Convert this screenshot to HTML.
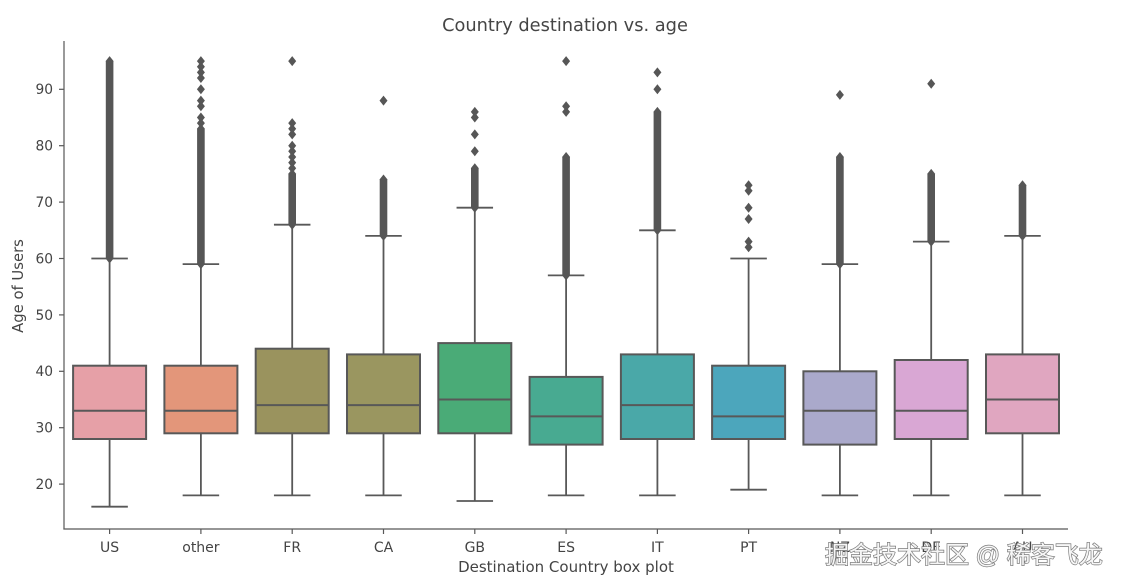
<!DOCTYPE html>
<html><head><meta charset="utf-8"><style>
html,body{margin:0;padding:0;background:#fff;}
svg{display:block;}
text{font-family:"DejaVu Sans","Liberation Sans",sans-serif;fill:#444;}
</style></head><body>
<svg width="1128" height="588" viewBox="0 0 1128 588" xmlns="http://www.w3.org/2000/svg">
<defs><path id="dm" d="M0,-5 L4,0 L0,5 L-4,0Z" fill="#565656"/></defs>
<rect width="1128" height="588" fill="#fff"/>
<text x="565" y="31" text-anchor="middle" font-size="17.8" style="fill:#454545">Country destination vs. age</text>

<g stroke="#585858" stroke-width="1.2" fill="none">
<line x1="64" y1="41" x2="64" y2="529.5"/>
<line x1="63.4" y1="529" x2="1068" y2="529"/>
<line x1="59" y1="484.1" x2="64" y2="484.1"/>
<line x1="59" y1="427.7" x2="64" y2="427.7"/>
<line x1="59" y1="371.3" x2="64" y2="371.3"/>
<line x1="59" y1="314.9" x2="64" y2="314.9"/>
<line x1="59" y1="258.5" x2="64" y2="258.5"/>
<line x1="59" y1="202.1" x2="64" y2="202.1"/>
<line x1="59" y1="145.7" x2="64" y2="145.7"/>
<line x1="59" y1="89.3" x2="64" y2="89.3"/>
<line x1="109.6" y1="529" x2="109.6" y2="534"/>
<line x1="200.9" y1="529" x2="200.9" y2="534"/>
<line x1="292.2" y1="529" x2="292.2" y2="534"/>
<line x1="383.5" y1="529" x2="383.5" y2="534"/>
<line x1="474.8" y1="529" x2="474.8" y2="534"/>
<line x1="566.1" y1="529" x2="566.1" y2="534"/>
<line x1="657.4" y1="529" x2="657.4" y2="534"/>
<line x1="748.6" y1="529" x2="748.6" y2="534"/>
<line x1="839.9" y1="529" x2="839.9" y2="534"/>
<line x1="931.2" y1="529" x2="931.2" y2="534"/>
<line x1="1022.5" y1="529" x2="1022.5" y2="534"/>
</g>

<g font-size="13.8" text-anchor="end">
<text x="53" y="489">20</text>
<text x="53" y="432.6">30</text>
<text x="53" y="376.2">40</text>
<text x="53" y="319.8">50</text>
<text x="53" y="263.4">60</text>
<text x="53" y="207">70</text>
<text x="53" y="150.6">80</text>
<text x="53" y="94.2">90</text>
</g>
<text transform="translate(23,286) rotate(-90)" text-anchor="middle" font-size="14.8">Age of Users</text>

<g font-size="14" text-anchor="middle">
<text x="109.6" y="552">US</text>
<text x="200.9" y="552">other</text>
<text x="292.2" y="552">FR</text>
<text x="383.5" y="552">CA</text>
<text x="474.8" y="552">GB</text>
<text x="566.1" y="552">ES</text>
<text x="657.4" y="552">IT</text>
<text x="748.6" y="552">PT</text>
<text x="839.9" y="552">NZ</text>
<text x="931.2" y="552">DE</text>
<text x="1022.5" y="552">AU</text>
</g>
<text x="566" y="572" text-anchor="middle" font-size="15">Destination Country box plot</text>

<!-- boxes -->
<g stroke="#585858" stroke-width="1.8">
<line x1="109.6" y1="365.7" x2="109.6" y2="258.5"/><line x1="109.6" y1="439" x2="109.6" y2="506.7"/>
<line x1="91.35" y1="258.5" x2="127.85" y2="258.5"/><line x1="91.35" y1="506.7" x2="127.85" y2="506.7"/>
<rect x="73.1" y="365.7" width="73" height="73.3" fill="#e6a0a7" stroke-width="2"/>
<line x1="73.1" y1="410.8" x2="146.1" y2="410.8" stroke-width="2"/>

<line x1="200.9" y1="365.7" x2="200.9" y2="264.1"/><line x1="200.9" y1="433.3" x2="200.9" y2="495.4"/>
<line x1="182.65" y1="264.1" x2="219.15" y2="264.1"/><line x1="182.65" y1="495.4" x2="219.15" y2="495.4"/>
<rect x="164.4" y="365.7" width="73" height="67.6" fill="#e3967a" stroke-width="2"/>
<line x1="164.4" y1="410.8" x2="237.4" y2="410.8" stroke-width="2"/>

<line x1="292.2" y1="348.7" x2="292.2" y2="224.7"/><line x1="292.2" y1="433.3" x2="292.2" y2="495.4"/>
<line x1="273.95" y1="224.7" x2="310.45" y2="224.7"/><line x1="273.95" y1="495.4" x2="310.45" y2="495.4"/>
<rect x="255.7" y="348.7" width="73" height="84.6" fill="#9a935e" stroke-width="2"/>
<line x1="255.7" y1="405.1" x2="328.7" y2="405.1" stroke-width="2"/>

<line x1="383.5" y1="354.4" x2="383.5" y2="235.9"/><line x1="383.5" y1="433.3" x2="383.5" y2="495.4"/>
<line x1="365.25" y1="235.9" x2="401.75" y2="235.9"/><line x1="365.25" y1="495.4" x2="401.75" y2="495.4"/>
<rect x="347" y="354.4" width="73" height="78.9" fill="#9a9660" stroke-width="2"/>
<line x1="347" y1="405.1" x2="420" y2="405.1" stroke-width="2"/>

<line x1="474.8" y1="343.1" x2="474.8" y2="207.7"/><line x1="474.8" y1="433.3" x2="474.8" y2="501"/>
<line x1="456.55" y1="207.7" x2="493.05" y2="207.7"/><line x1="456.55" y1="501" x2="493.05" y2="501"/>
<rect x="438.3" y="343.1" width="73" height="90.2" fill="#4aab77" stroke-width="2"/>
<line x1="438.3" y1="399.5" x2="511.3" y2="399.5" stroke-width="2"/>

<line x1="566.1" y1="376.9" x2="566.1" y2="275.4"/><line x1="566.1" y1="444.6" x2="566.1" y2="495.4"/>
<line x1="547.85" y1="275.4" x2="584.35" y2="275.4"/><line x1="547.85" y1="495.4" x2="584.35" y2="495.4"/>
<rect x="529.6" y="376.9" width="73" height="67.7" fill="#48aa91" stroke-width="2"/>
<line x1="529.6" y1="416.4" x2="602.6" y2="416.4" stroke-width="2"/>

<line x1="657.4" y1="354.4" x2="657.4" y2="230.3"/><line x1="657.4" y1="439" x2="657.4" y2="495.4"/>
<line x1="639.15" y1="230.3" x2="675.65" y2="230.3"/><line x1="639.15" y1="495.4" x2="675.65" y2="495.4"/>
<rect x="620.9" y="354.4" width="73" height="84.6" fill="#4aa8a8" stroke-width="2"/>
<line x1="620.9" y1="405.1" x2="693.9" y2="405.1" stroke-width="2"/>

<line x1="748.6" y1="365.7" x2="748.6" y2="258.5"/><line x1="748.6" y1="439" x2="748.6" y2="489.7"/>
<line x1="730.35" y1="258.5" x2="766.85" y2="258.5"/><line x1="730.35" y1="489.7" x2="766.85" y2="489.7"/>
<rect x="712.1" y="365.7" width="73" height="73.3" fill="#4ca6bc" stroke-width="2"/>
<line x1="712.1" y1="416.4" x2="785.1" y2="416.4" stroke-width="2"/>

<line x1="839.9" y1="371.3" x2="839.9" y2="264.1"/><line x1="839.9" y1="444.6" x2="839.9" y2="495.4"/>
<line x1="821.65" y1="264.1" x2="858.15" y2="264.1"/><line x1="821.65" y1="495.4" x2="858.15" y2="495.4"/>
<rect x="803.4" y="371.3" width="73" height="73.3" fill="#aaa9cb" stroke-width="2"/>
<line x1="803.4" y1="410.8" x2="876.4" y2="410.8" stroke-width="2"/>

<line x1="931.2" y1="360" x2="931.2" y2="241.6"/><line x1="931.2" y1="439" x2="931.2" y2="495.4"/>
<line x1="912.95" y1="241.6" x2="949.45" y2="241.6"/><line x1="912.95" y1="495.4" x2="949.45" y2="495.4"/>
<rect x="894.7" y="360" width="73" height="79" fill="#d9a7d4" stroke-width="2"/>
<line x1="894.7" y1="410.8" x2="967.7" y2="410.8" stroke-width="2"/>

<line x1="1022.5" y1="354.4" x2="1022.5" y2="235.9"/><line x1="1022.5" y1="433.3" x2="1022.5" y2="495.4"/>
<line x1="1004.25" y1="235.9" x2="1040.75" y2="235.9"/><line x1="1004.25" y1="495.4" x2="1040.75" y2="495.4"/>
<rect x="986" y="354.4" width="73" height="78.9" fill="#e0a6c0" stroke-width="2"/>
<line x1="986" y1="399.5" x2="1059" y2="399.5" stroke-width="2"/>
</g>

<!-- outliers -->
<g fill="#565656">
<rect x="105.8" y="61.1" width="7.6" height="197.4"/>
<rect x="197.1" y="128.8" width="7.6" height="135.3"/>
<rect x="288.4" y="173.9" width="7.6" height="50.8"/>
<rect x="379.7" y="179.5" width="7.6" height="56.4"/>
<rect x="471" y="168.3" width="7.6" height="39.4"/>
<rect x="562.3" y="157" width="7.6" height="118.4"/>
<rect x="653.6" y="111.9" width="7.6" height="118.4"/>
<rect x="836.1" y="157" width="7.6" height="107.1"/>
<rect x="927.4" y="173.9" width="7.6" height="67.7"/>
<rect x="1018.7" y="185.2" width="7.6" height="50.7"/>
</g>
<g>
<use href="#dm" x="109.6" y="61.1"/><use href="#dm" x="109.6" y="258.5"/>
<use href="#dm" x="200.9" y="128.8"/><use href="#dm" x="200.9" y="264.1"/><use href="#dm" x="200.9" y="123.1"/><use href="#dm" x="200.9" y="117.5"/><use href="#dm" x="200.9" y="106.2"/><use href="#dm" x="200.9" y="100.6"/><use href="#dm" x="200.9" y="89.3"/><use href="#dm" x="200.9" y="78"/><use href="#dm" x="200.9" y="72.4"/><use href="#dm" x="200.9" y="66.7"/><use href="#dm" x="200.9" y="61.1"/>
<use href="#dm" x="292.2" y="173.9"/><use href="#dm" x="292.2" y="224.7"/><use href="#dm" x="292.2" y="168.3"/><use href="#dm" x="292.2" y="162.6"/><use href="#dm" x="292.2" y="157"/><use href="#dm" x="292.2" y="151.3"/><use href="#dm" x="292.2" y="145.7"/><use href="#dm" x="292.2" y="134.4"/><use href="#dm" x="292.2" y="128.8"/><use href="#dm" x="292.2" y="123.1"/><use href="#dm" x="292.2" y="61.1"/>
<use href="#dm" x="383.5" y="179.5"/><use href="#dm" x="383.5" y="235.9"/><use href="#dm" x="383.5" y="100.6"/>
<use href="#dm" x="474.8" y="168.3"/><use href="#dm" x="474.8" y="207.7"/><use href="#dm" x="474.8" y="151.3"/><use href="#dm" x="474.8" y="134.4"/><use href="#dm" x="474.8" y="117.5"/><use href="#dm" x="474.8" y="111.9"/>
<use href="#dm" x="566.1" y="157"/><use href="#dm" x="566.1" y="275.4"/><use href="#dm" x="566.1" y="111.9"/><use href="#dm" x="566.1" y="106.2"/><use href="#dm" x="566.1" y="61.1"/>
<use href="#dm" x="657.4" y="111.9"/><use href="#dm" x="657.4" y="230.3"/><use href="#dm" x="657.4" y="89.3"/><use href="#dm" x="657.4" y="72.4"/>
<use href="#dm" x="748.6" y="247.2"/><use href="#dm" x="748.6" y="241.6"/><use href="#dm" x="748.6" y="219"/><use href="#dm" x="748.6" y="207.7"/><use href="#dm" x="748.6" y="190.8"/><use href="#dm" x="748.6" y="185.2"/>
<use href="#dm" x="839.9" y="157"/><use href="#dm" x="839.9" y="264.1"/><use href="#dm" x="839.9" y="94.9"/>
<use href="#dm" x="931.2" y="173.9"/><use href="#dm" x="931.2" y="241.6"/><use href="#dm" x="931.2" y="83.7"/>
<use href="#dm" x="1022.5" y="185.2"/><use href="#dm" x="1022.5" y="235.9"/>
</g>

<text x="825" y="563" font-size="24" style="font-family:'Liberation Sans','Noto Sans CJK SC',sans-serif;fill:#f6f6f6;stroke:#7a7a7a;stroke-width:1.4;paint-order:stroke;">掘金技术社区 @ 稀客飞龙</text>
</svg>
</body></html>
